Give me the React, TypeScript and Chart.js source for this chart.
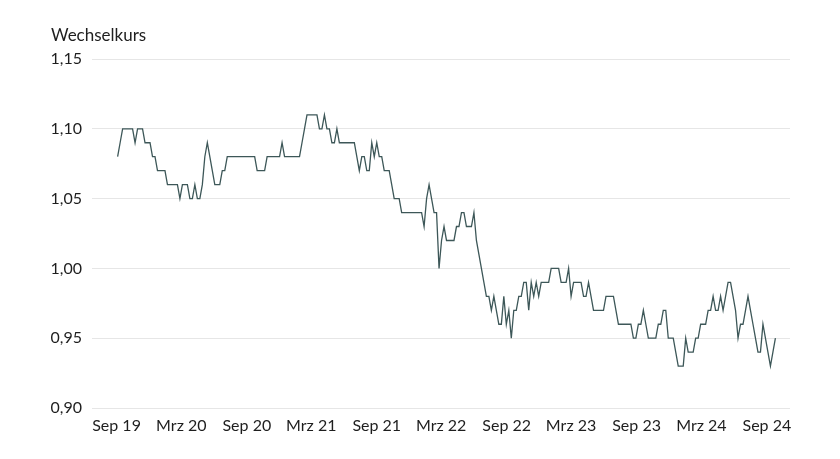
import React, { useEffect, useRef } from "react";
import { Chart, registerables } from "chart.js";

Chart.register(...registerables);

// Weekly EUR exchange rate readings (first reading: 4 Sep 2019)
const startDate = Date.UTC(2019, 8, 4);
const rates: number[] = [
  1.08, 1.09, 1.10, 1.10, 1.10, 1.10, 1.10, 1.09, 1.10, 1.10,
  1.10, 1.09, 1.09, 1.09, 1.08, 1.08, 1.07, 1.07, 1.07, 1.07,
  1.06, 1.06, 1.06, 1.06, 1.06, 1.05, 1.06, 1.06, 1.06, 1.05,
  1.05, 1.06, 1.05, 1.05, 1.06, 1.08, 1.09, 1.08, 1.07, 1.06,
  1.06, 1.06, 1.07, 1.07, 1.08, 1.08, 1.08, 1.08, 1.08, 1.08,
  1.08, 1.08, 1.08, 1.08, 1.08, 1.08, 1.07, 1.07, 1.07, 1.07,
  1.08, 1.08, 1.08, 1.08, 1.08, 1.08, 1.09, 1.08, 1.08, 1.08,
  1.08, 1.08, 1.08, 1.08, 1.09, 1.10, 1.11, 1.11, 1.11, 1.11,
  1.11, 1.10, 1.10, 1.11, 1.10, 1.10, 1.09, 1.09, 1.10, 1.09,
  1.09, 1.09, 1.09, 1.09, 1.09, 1.09, 1.08, 1.07, 1.08, 1.08,
  1.07, 1.07, 1.09, 1.08, 1.09, 1.08, 1.08, 1.07, 1.07, 1.07,
  1.06, 1.05, 1.05, 1.05, 1.04, 1.04, 1.04, 1.04, 1.04, 1.04,
  1.04, 1.04, 1.04, 1.03, 1.05, 1.06, 1.05, 1.04, 1.04, 1.00,
  1.02, 1.03, 1.02, 1.02, 1.02, 1.02, 1.03, 1.03, 1.04, 1.04,
  1.03, 1.03, 1.03, 1.04, 1.02, 1.01, 1.00, 0.99, 0.98, 0.98,
  0.97, 0.98, 0.97, 0.96, 0.96, 0.98, 0.96, 0.97, 0.95, 0.97,
  0.97, 0.98, 0.98, 0.99, 0.99, 0.97, 0.99, 0.98, 0.99, 0.98,
  0.99, 0.99, 0.99, 0.99, 1.00, 1.00, 1.00, 1.00, 0.99, 0.99,
  0.99, 1.00, 0.98, 0.99, 0.99, 0.99, 0.99, 0.98, 0.98, 0.99,
  0.98, 0.97, 0.97, 0.97, 0.97, 0.97, 0.98, 0.98, 0.98, 0.98,
  0.97, 0.96, 0.96, 0.96, 0.96, 0.96, 0.96, 0.95, 0.95, 0.96,
  0.96, 0.97, 0.96, 0.95, 0.95, 0.95, 0.95, 0.96, 0.96, 0.97,
  0.97, 0.95, 0.95, 0.95, 0.94, 0.93, 0.93, 0.93, 0.95, 0.94,
  0.94, 0.94, 0.95, 0.95, 0.96, 0.96, 0.96, 0.97, 0.97, 0.98,
  0.97, 0.97, 0.98, 0.97, 0.98, 0.99, 0.99, 0.98, 0.97, 0.95,
  0.96, 0.96, 0.97, 0.98, 0.97, 0.96, 0.95, 0.94, 0.94, 0.96,
  0.95, 0.94, 0.93, 0.94, 0.95,
];

const tickLabels = [
  "Sep 19", "Mrz 20", "Sep 20", "Mrz 21", "Sep 21", "Mrz 22",
  "Sep 22", "Mrz 23", "Sep 23", "Mrz 24", "Sep 24",
];
const tickDates = [
  Date.UTC(2019, 8, 1), Date.UTC(2020, 2, 1), Date.UTC(2020, 8, 1),
  Date.UTC(2021, 2, 1), Date.UTC(2021, 8, 1), Date.UTC(2022, 2, 1),
  Date.UTC(2022, 8, 1), Date.UTC(2023, 2, 1), Date.UTC(2023, 8, 1),
  Date.UTC(2024, 2, 1), Date.UTC(2024, 8, 1),
];
const yTitle = "Wechselkurs";

const DAY = 86400000;
const FONT = "Lato";

export default function App() {
  const ref = useRef<HTMLCanvasElement | null>(null);

  useEffect(() => {
    if (!ref.current) return;
    const points = rates.map((v, i) => ({ x: startDate + i * 7 * DAY, y: v }));

    const titlePlugin = {
      id: "yTitle",
      afterDraw(chart: any) {
        const ctx = chart.ctx;
        ctx.save();
        ctx.font = `17px ${FONT}`;
        ctx.fillStyle = "#1e1e1e";
        ctx.textAlign = "left";
        ctx.textBaseline = "alphabetic";
        ctx.fillText(yTitle, 51, 41);
        ctx.restore();
      },
    };

    const chart = new Chart(ref.current, {
      type: "line",
      data: {
        datasets: [
          {
            data: points,
            borderColor: "#3d5758",
            borderWidth: 1.3,
            pointRadius: 0,
            tension: 0,
            fill: false,
          },
        ],
      },
      options: {
        animation: false,
        responsive: false,
        maintainAspectRatio: false,
        layout: { padding: { left: 50, top: 59, right: 50, bottom: 0 } },
        plugins: { legend: { display: false }, tooltip: { enabled: false }, title: { display: false } },
        scales: {
          x: {
            type: "linear",
            min: Date.UTC(2019, 5, 24),
            max: Date.UTC(2024, 10, 5),
            afterBuildTicks: (scale: any) => {
              scale.ticks = tickDates.map((v) => ({ value: v }));
            },
            grid: { display: false, drawTicks: false },
            border: { display: false },
            ticks: {
              autoSkip: false,
              maxRotation: 0,
              padding: 8,
              color: "#1e1e1e",
              font: { family: FONT, size: 16 },
              callback: (value: any) => {
                const idx = tickDates.indexOf(Number(value));
                return idx >= 0 ? tickLabels[idx] : "";
              },
            },
            afterFit: (scale: any) => {
              scale.height = 51;
            },
          },
          y: {
            min: 0.9,
            max: 1.15,
            ticks: {
              stepSize: 0.05,
              padding: 10,
              color: "#1e1e1e",
              font: { family: FONT, size: 16 },
              callback: (value: any) => Number(value).toFixed(2).replace(".", ","),
            },
            grid: { color: "#e6e6e6", drawTicks: false, lineWidth: 1 },
            border: { display: false },
            afterFit: (scale: any) => {
              scale.width = 42;
            },
          },
        },
      },
      plugins: [titlePlugin],
    });
    return () => chart.destroy();
  }, []);

  return (
    <div style={{ position: "fixed", left: 0, top: 0, width: 840, height: 459, background: "#fff" }}>
      <canvas ref={ref} width={840} height={459} style={{ display: "block", width: 840, height: 459 }} />
    </div>
  );
}
